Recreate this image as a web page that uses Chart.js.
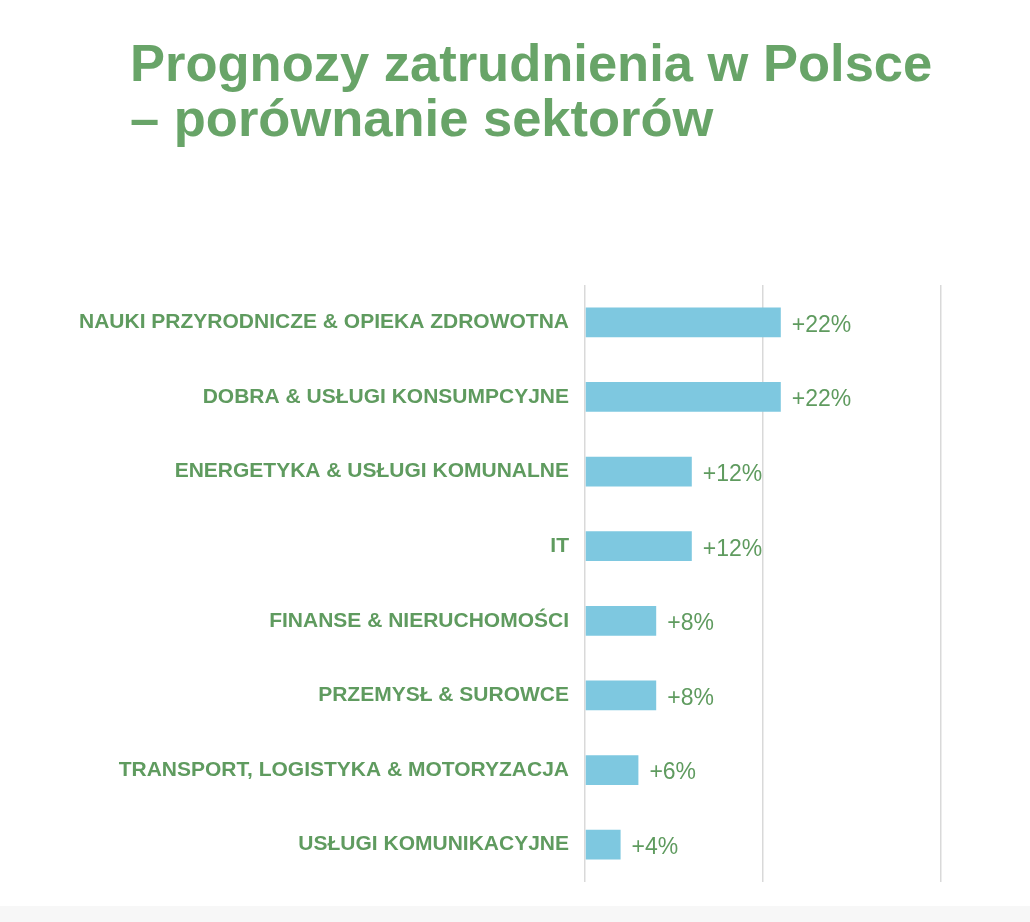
<!DOCTYPE html>
<html>
<head>
<meta charset="utf-8">
<script src="https://cdn.jsdelivr.net/npm/chart.js@4"></script>
<style>
  html, body { margin: 0; padding: 0; background: #fff; }
  body { width: 1030px; height: 922px; position: relative; overflow: hidden; font-family: "Liberation Sans", Arial, sans-serif; }
  h1 { position: absolute; left: 130px; top: 35px; margin: 0; font-size: 52.5px; line-height: 55px; font-weight: bold; color: #68a468; }
  #chart { position: absolute; left: 0; top: 0; }
  .foot { position: absolute; left: 0; right: 0; top: 906px; height: 16px; background: #f7f7f7; }
</style>
</head>
<body>
<h1>Prognozy zatrudnienia w Polsce<br>– porównanie sektorów</h1>
<canvas id="chart" width="1030" height="922"></canvas>
<div class="foot"></div>
<script>
  const sectors = [
    'NAUKI PRZYRODNICZE & OPIEKA ZDROWOTNA',
    'DOBRA & USŁUGI KONSUMPCYJNE',
    'ENERGETYKA & USŁUGI KOMUNALNE',
    'IT',
    'FINANSE & NIERUCHOMOŚCI',
    'PRZEMYSŁ & SUROWCE',
    'TRANSPORT, LOGISTYKA & MOTORYZACJA',
    'USŁUGI KOMUNIKACYJNE'
  ];
  const growth = [22, 22, 12, 12, 8, 8, 6, 4];
  const growthLabels = ['+22%', '+22%', '+12%', '+12%', '+8%', '+8%', '+6%', '+4%'];
  const xTicks = [0, 20, 40];

  const green = '#5f9b5f';

  // draw "+22%" style text just past the end of each bar
  const valueLabels = {
    id: 'valueLabels',
    afterDatasetsDraw(chart) {
      const ctx = chart.ctx;
      const meta = chart.getDatasetMeta(0);
      ctx.save();
      ctx.font = '23px "Liberation Sans", Arial, sans-serif';
      ctx.fillStyle = green;
      ctx.textAlign = 'left';
      ctx.textBaseline = 'middle';
      meta.data.forEach((bar, i) => {
        ctx.fillText(growthLabels[i], bar.x + 11, bar.y + 3);
      });
      ctx.restore();
    }
  };

  new Chart(document.getElementById('chart'), {
    type: 'bar',
    data: {
      labels: sectors,
      datasets: [{
        data: growth,
        backgroundColor: '#7ec8e0',
        borderWidth: 0,
        categoryPercentage: 0.8,
        barPercentage: 0.5
      }]
    },
    options: {
      indexAxis: 'y',
      responsive: false,
      animation: false,
      devicePixelRatio: 1,
      layout: { padding: { top: 285, bottom: 40, right: 89, left: 0 } },
      plugins: { legend: { display: false }, tooltip: { enabled: false } },
      scales: {
        x: {
          min: 0, max: 40,
          afterBuildTicks: (scale) => { scale.ticks = xTicks.map(v => ({ value: v })); },
          afterFit: (scale) => { scale.height = 0; },
          ticks: { display: false },
          grid: { color: '#d9d9d9', lineWidth: 1.5, drawTicks: false },
          border: { display: false }
        },
        y: {
          afterFit: (scale) => { scale.width = 585; },
          grid: { display: false },
          border: { display: false },
          ticks: {
            color: green,
            padding: 8,
            font: { family: '"Liberation Sans", Arial, sans-serif', size: 21, weight: 'bold' }
          }
        }
      }
    },
    plugins: [valueLabels]
  });
</script>
</body>
</html>
